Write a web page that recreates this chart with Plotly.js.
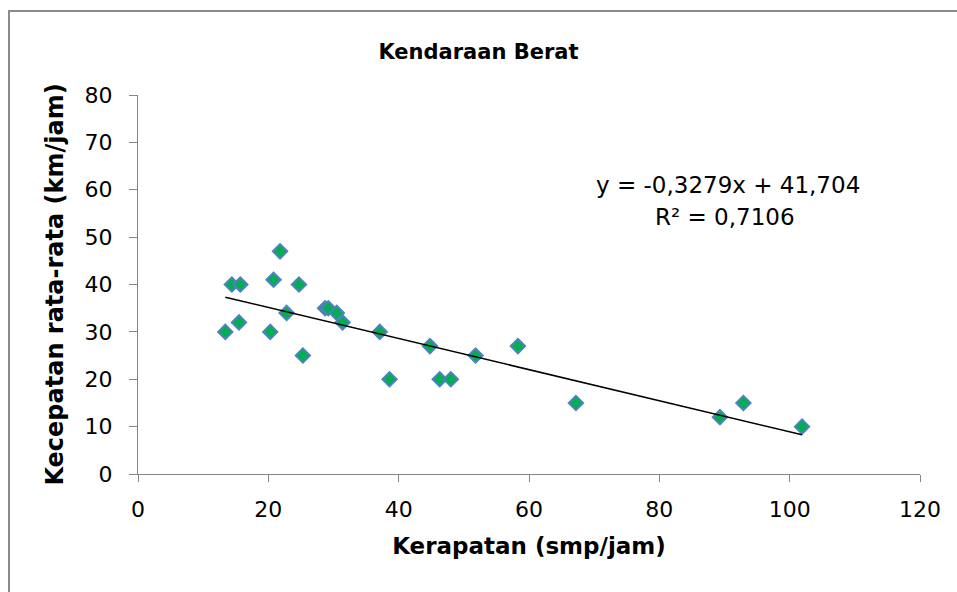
<!DOCTYPE html>
<html>
<head>
<meta charset="utf-8">
<script src="https://cdn.plot.ly/plotly-3.0.1.min.js"></script>
<style>
  html, body { margin: 0; padding: 0; background: #ffffff; overflow: hidden; }
  #wrap { position: relative; width: 957px; height: 592px; }
  #chart { width: 957px; height: 592px; }
  #topline { position: absolute; left: 8px; top: 10px; width: 949px; height: 2px;
             background: #8a8a8a; pointer-events: none; z-index: 10; }
  #leftline { position: absolute; left: 8px; top: 10px; width: 2px; height: 582px;
             background: #8a8a8a; pointer-events: none; z-index: 10; }
</style>
</head>
<body>
<div id="wrap">
  <div id="chart"></div>
  <div id="topline"></div>
  <div id="leftline"></div>
</div>
<script>
// Data
const kerapatan = [13.4, 14.4, 15.7, 15.5, 20.3, 20.8, 21.8, 22.8, 24.7, 25.3, 28.7, 29.2, 30.5, 31.4, 37.1, 38.6, 44.8, 46.3, 48.0, 51.8, 58.3, 67.2, 89.3, 92.9, 101.9];
const kecepatan = [30, 40, 40, 32, 30, 41, 47, 34, 40, 25, 35, 35, 34, 32, 30, 20, 27, 20, 20, 25, 27, 15, 12, 15, 10];
const slope = -0.3279;
const intercept = 41.704;
const equationText = "y = -0,3279x + 41,704";
const r2Text = "R² = 0,7106";
const chartTitle = "Kendaraan Berat";
const xTitle = "Kerapatan (smp/jam)";
const yTitle = "Kecepatan rata-rata (km/jam)";

const xMin = Math.min(...kerapatan);
const xMax = Math.max(...kerapatan);
const trendX = [xMin, xMax];
const trendY = trendX.map(v => slope * v + intercept);

const FONT = "DejaVu Sans, Verdana, sans-serif";

const traces = [
  {
    x: kerapatan, y: kecepatan, type: "scatter", mode: "markers",
    marker: { symbol: "diamond", size: 11, color: "#00B050", line: { color: "#4F81BD", width: 2 } },
    hoverinfo: "x+y", showlegend: false
  },
  {
    x: trendX, y: trendY, type: "scatter", mode: "lines",
    line: { color: "#000000", width: 1.5 },
    hoverinfo: "skip", showlegend: false
  }
];

const layout = {
  width: 957, height: 592,
  margin: { l: 138, r: 37, t: 95, b: 118 },
  paper_bgcolor: "rgba(0,0,0,0)", plot_bgcolor: "rgba(0,0,0,0)",
  font: { family: FONT, color: "#000000", size: 22 },
  title: { text: "<b>" + chartTitle + "</b>", font: { family: FONT, size: 21, color: "#000" },
           x: 0.5, xref: "container", xanchor: "center", y: 0.912, yanchor: "middle" },
  xaxis: {
    range: [0, 120], dtick: 20, tick0: 0, showgrid: false, zeroline: false,
    showline: true, linecolor: "#868686", linewidth: 1,
    ticks: "outside", ticklen: 7, tickcolor: "#868686", tickwidth: 1,
    ticklabelstandoff: 9,
    tickfont: { family: FONT, size: 22, color: "#000" },
    title: { text: "<b>" + xTitle + "</b>", font: { family: FONT, size: 23, color: "#000" }, standoff: 16 },
    fixedrange: true
  },
  yaxis: {
    range: [0, 80], dtick: 10, tick0: 0, showgrid: false, zeroline: false,
    showline: true, linecolor: "#868686", linewidth: 1,
    ticks: "outside", ticklen: 8, tickcolor: "#868686", tickwidth: 1,
    ticklabelstandoff: 12,
    tickfont: { family: FONT, size: 22, color: "#000" },
    title: { text: "<b>" + yTitle + "</b>", font: { family: FONT, size: 24, color: "#000" }, standoff: 14 },
    fixedrange: true
  },
  annotations: [
    { x: 90.6, y: 61.0, xref: "x", yref: "y", text: equationText, showarrow: false,
      xanchor: "center", yanchor: "middle", font: { family: FONT, size: 23, color: "#000" } },
    { x: 90.1, y: 54.3, xref: "x", yref: "y", text: r2Text, showarrow: false,
      xanchor: "center", yanchor: "middle", font: { family: FONT, size: 23, color: "#000" } }
  ]
};

Plotly.newPlot("chart", traces, layout, { displayModeBar: false, staticPlot: true });
</script>
</body>
</html>
